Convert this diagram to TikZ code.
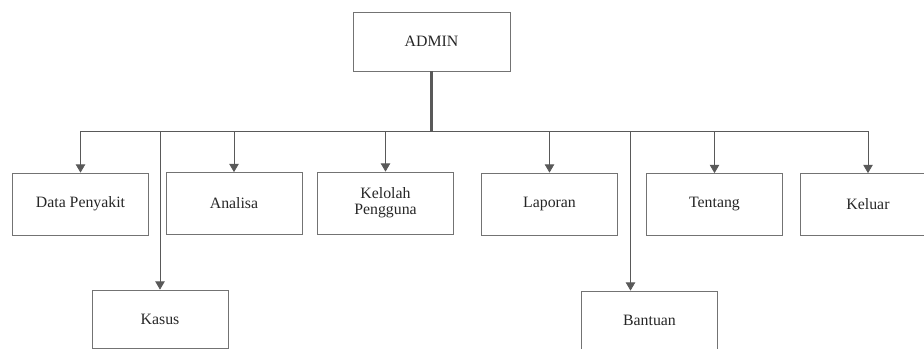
\documentclass[tikz,border=0pt]{standalone}
\usepackage{fontspec}
\setmainfont{Liberation Serif}
\usetikzlibrary{arrows.meta, positioning}

\begin{document}
\begin{tikzpicture}[x=0.03cm, y=-0.03cm,
		menu/.style = {
			draw=black!55, line width=0.6pt, text=black!85,
			minimum width=4.08cm, minimum height=1.86cm,
			align=center, font=\fontsize{13.5}{14}\selectfont
		},
		link/.style = {
			black!65, line width=0.7pt,
			-{Triangle[width=8pt,length=7pt]},
			to path={-| (\tikztotarget)}
		}]
		\useasboundingbox (0,0) rectangle (924,349);
		
		\node at (431.5,41.5) (admin) [menu, minimum width=4.71cm, minimum height=1.77cm] {ADMIN};
		
		\node at (80.5,204) (data) [menu] {Data Penyakit};
		\node at (234,203.5) (analisa) [menu] {Analisa};
		\node at (385.5,203) (kelolah) [menu] {Kelolah\\Pengguna};
		\node at (549.5,204) (laporan) [menu] {Laporan};
		\node at (714.5,204.5) (tentang) [menu] {Tentang};
		\node at (868,204.5) (keluar) [menu] {Keluar};
		
		\node at (160,319) (kasus) [menu, minimum height=1.74cm] {Kasus};
		\node at (649.5,320) (bantuan) [menu, minimum height=1.74cm] {Bantuan};
		
		\coordinate (bus) at (431.5,131);
		\draw [black!65, line width=2.2pt] (admin) -- (bus);
		
		\path [link]
		(bus) edge (data)
		(bus) edge (analisa)
		(bus) edge (kelolah)
		(bus) edge (laporan)
		(bus) edge (tentang)
		(bus) edge (keluar)
		(bus) edge (kasus)
		(bus) edge ([xshift=-0.57cm]bantuan.north);
	\end{tikzpicture}
\end{document}
